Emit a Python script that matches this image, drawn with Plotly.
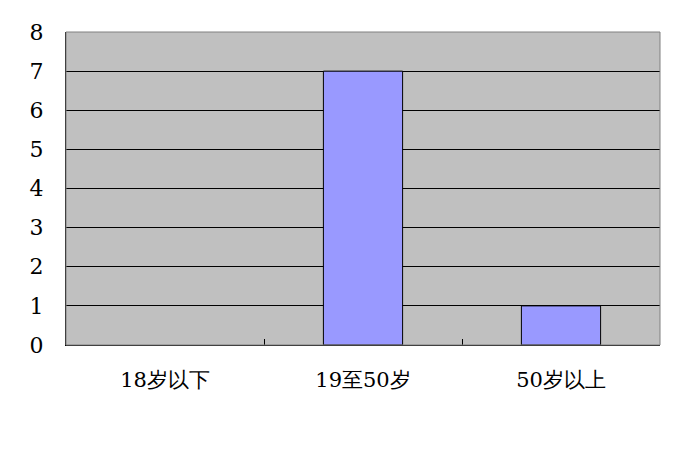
import plotly.graph_objects as go

categories = ["18岁以下", "19至50岁", "50岁以上"]
values = [0, 7, 1]
y_ticks = [0, 1, 2, 3, 4, 5, 6, 7, 8]

font_family = "DejaVu Serif"

fig = go.Figure()
fig.add_trace(go.Bar(
    x=categories, y=values, width=0.4,
    marker=dict(color="#9999FF",
                line=dict(color="black", width=[0 if v == 0 else 1 for v in values])),
))

fig.update_layout(
    width=689, height=443,
    margin=dict(l=58, r=37, t=14, b=106),
    paper_bgcolor="white",
    plot_bgcolor="#C0C0C0",
    showlegend=False,
    font=dict(family=font_family, size=21, color="black"),
    shapes=[dict(type="rect", xref="paper", yref="paper", x0=0, x1=1, y0=0, y1=1,
                 line=dict(color="#808080", width=1), layer="above")],
)
fig.update_xaxes(
    type="category", tickson="boundaries", ticks="inside", ticklen=6,
    tickcolor="black", tickwidth=1, showgrid=False,
    showline=True, linecolor="black", linewidth=1, layer="above traces",
    tickfont=dict(size=21, family=font_family), ticklabelstandoff=16,
)
fig.update_yaxes(
    range=[0, 8], tickvals=y_ticks, ticks="inside", ticklen=7,
    tickcolor="black", tickwidth=1,
    showgrid=True, gridcolor="black", gridwidth=1,
    showline=True, linecolor="black", linewidth=1,
    zeroline=False, tickfont=dict(size=22, family=font_family), ticklabelstandoff=17,
)
fig.write_html("out.html")
